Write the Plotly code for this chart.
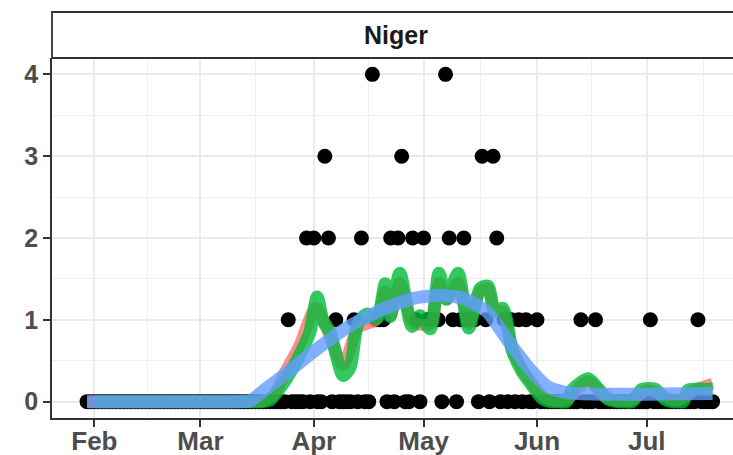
import plotly.graph_objects as go
import pandas as pd

# ---- daily counts, one list per month ----
count_jan = [0, 0]  # Jan 30-31
count_feb = [0, 0, 0, 0, 0, 0, 0, 0, 0, 0, 0, 0, 0, 0, 0, 0, 0, 0, 0, 0, 0, 0, 0, 0, 0, 0, 0, 0, 0]
count_mar = [0, 0, 0, 0, 0, 0, 0, 0, 0, 0, 0, 0, 0, 0, 0, 0, 0, 0, 0, 0, 0, 0, 0, 0, 1, 0, 0, 0, 0, 2, 0]
count_apr = [2, 0, 0, 3, 2, 0, 1, 0, 0, 0, 0, 1, 0, 2, 0, 0, 4, 1, 1, 1, 0, 2, 0, 2, 3, 0, 0, 2, 1, 0]
count_may = [2, 1, 1, 1, 1, 0, 4, 2, 1, 0, 1, 2, 1, 1, 1, 0, 3, 1, 0, 3, 2, 0, 1, 0, 1, 0, 1, 0, 1, 0, 0]
count_jun = [1, 0, 0, 0, 0, 0, 0, 0, 0, 0, 0, 0, 1, 0, 0, 0, 1, 0, 0, 0, 0, 0, 0, 0, 0, 0, 0, 0, 0, 0]
count_jul = [0, 1, 0, 0, 0, 0, 0, 0, 0, 0, 0, 0, 0, 0, 1, 0, 0, 0, 0]  # Jul 1-19
first_day = "2020-01-30"

# ---- red line ----
red_dates = ["2020-01-30", "2020-02-20", "2020-03-10", "2020-03-16", "2020-03-18", "2020-03-21", "2020-03-24",
             "2020-03-28", "2020-04-01 12:00",
             "2020-04-04", "2020-04-09", "2020-04-13", "2020-04-18", "2020-04-20 12:00", "2020-04-22",
             "2020-04-24 12:00", "2020-04-28", "2020-05-02 20:00", "2020-05-05 06:00", "2020-05-07 06:00",
             "2020-05-10 10:00", "2020-05-13 08:00", "2020-05-16 12:00", "2020-05-18 12:00", "2020-05-20 12:00",
             "2020-05-22 16:00", "2020-05-25 06:00", "2020-05-28", "2020-05-31", "2020-06-03", "2020-06-06",
             "2020-06-09", "2020-06-15", "2020-06-20", "2020-06-24", "2020-06-27", "2020-07-01", "2020-07-05",
             "2020-07-08", "2020-07-10", "2020-07-14", "2020-07-19"]
red_vals = [0, 0, 0, 0, 0.01, 0.08, 0.35,
            0.68, 1.15,
            0.95, 0.45, 0.9, 1.0, 1.35, 1.05,
            1.45, 0.97, 0.95, 1.45, 1.25,
            1.45, 0.95, 1.35, 1.38, 1.12,
            1.1, 0.65, 0.4, 0.2, 0.05, 0.01,
            0.02, 0.25, 0.05, 0.01, 0.02, 0.14, 0.08,
            0.02, 0.02, 0.14, 0.22]

# ---- green line ----
green_dates = ["2020-02-01", "2020-02-20", "2020-03-10", "2020-03-16", "2020-03-18", "2020-03-20",
               "2020-03-23 14:00", "2020-03-26 08:00", "2020-03-29",
               "2020-03-30 22:00", "2020-04-01 22:00", "2020-04-03 12:00", "2020-04-05 10:00", "2020-04-09",
               "2020-04-10 22:00", "2020-04-13", "2020-04-15 12:00", "2020-04-18 08:00", "2020-04-20 12:00",
               "2020-04-21 20:00", "2020-04-24 12:00", "2020-04-27 20:00", "2020-04-30", "2020-05-02 20:00",
               "2020-05-05 05:00", "2020-05-07 07:00", "2020-05-10 10:00", "2020-05-13 08:00", "2020-05-16 10:00",
               "2020-05-18 14:00", "2020-05-20 12:00", "2020-05-22 16:00", "2020-05-25 05:00", "2020-05-27 22:00",
               "2020-05-30 16:00", "2020-06-02 10:00", "2020-06-05", "2020-06-07", "2020-06-09", "2020-06-10 14:00",
               "2020-06-15", "2020-06-17 16:00", "2020-06-20 10:00", "2020-06-23", "2020-06-25", "2020-06-27",
               "2020-06-29 16:00", "2020-07-03 08:00", "2020-07-06", "2020-07-08", "2020-07-09 12:00", "2020-07-11",
               "2020-07-12 08:00", "2020-07-17 18:00", "2020-07-19"]
green_vals = [0, 0, 0, 0, 0, 0.02,
              0.22, 0.42, 0.65,
              0.85, 1.28, 0.99, 0.85, 0.32,
              0.42, 0.95, 1.07, 1.02, 1.44,
              1.04, 1.57, 0.92, 1.05, 0.89,
              1.57, 1.25, 1.57, 0.90, 1.38,
              1.41, 1.10, 1.14, 0.63, 0.37,
              0.20, 0.04, 0, 0, 0, 0.14,
              0.28, 0.16, 0.03, 0, 0, 0,
              0.15, 0.15, 0.03, 0, 0, 0,
              0.14, 0.15, 0.15]

# ---- blue smooth line ----
blue_dates = ["2020-01-30", "2020-02-20", "2020-03-05", "2020-03-11", "2020-03-14 14:00", "2020-03-19",
              "2020-03-24", "2020-04-02", "2020-04-10 22:00", "2020-04-19 22:00",
              "2020-04-28", "2020-05-05 12:00", "2020-05-12", "2020-05-18 08:00", "2020-05-24", "2020-05-30",
              "2020-06-04", "2020-06-09", "2020-06-20", "2020-07-01", "2020-07-10", "2020-07-19"]
blue_vals = [0, 0, 0, 0, 0.01, 0.16,
             0.33, 0.65, 0.93, 1.13,
             1.26, 1.30, 1.26, 1.10, 0.75, 0.40,
             0.18, 0.11, 0.09, 0.09, 0.095, 0.10]

# ---- axis ticks ----
month_ticks = ["2020-02-01", "2020-03-01", "2020-04-01", "2020-05-01", "2020-06-01", "2020-07-01"]
month_labels = ["Feb", "Mar", "Apr", "May", "Jun", "Jul"]
minor_x = ["2020-02-15 12:00", "2020-03-16", "2020-04-16", "2020-05-16 12:00", "2020-06-16", "2020-07-16 12:00"]
y_ticks = [0, 1, 2, 3, 4]
minor_y = [0.5, 1.5, 2.5, 3.5]
panel_title = "Niger"

counts = count_jan + count_feb + count_mar + count_apr + count_may + count_jun + count_jul
dates = pd.date_range(first_day, periods=len(counts), freq="D")


def to_dt(values):
    return pd.to_datetime(values, format="mixed")


FONT = "Liberation Sans, Arial, Helvetica, sans-serif"

fig = go.Figure()
fig.add_trace(go.Scatter(x=dates, y=counts, mode="markers",
                         marker=dict(color="black", size=15, line=dict(width=0)),
                         hoverinfo="skip"))
fig.add_trace(go.Scatter(x=to_dt(red_dates), y=red_vals, mode="lines",
                         line=dict(color="rgba(248,118,109,0.8)", width=12, shape="spline", smoothing=0.7),
                         hoverinfo="skip"))
fig.add_trace(go.Scatter(x=to_dt(green_dates), y=green_vals, mode="lines",
                         line=dict(color="rgba(0,186,56,0.8)", width=13, shape="spline", smoothing=0.7),
                         hoverinfo="skip"))
fig.add_trace(go.Scatter(x=to_dt(blue_dates), y=blue_vals, mode="lines",
                         line=dict(color="rgba(97,156,255,0.8)", width=13, shape="spline", smoothing=0.6),
                         hoverinfo="skip"))

fig.update_layout(
    width=733, height=455,
    margin=dict(l=52, r=0, t=58, b=37, autoexpand=False),
    paper_bgcolor="white", plot_bgcolor="white",
    showlegend=False,
    font=dict(family=FONT),
)

fig.update_xaxes(
    type="date",
    range=["2020-01-20 10:00", "2020-07-24 14:00"],
    tickmode="array", tickvals=month_ticks, ticktext=month_labels,
    showgrid=True, gridcolor="#EBEBEB", gridwidth=2,
    minor=dict(tickmode="array", tickvals=minor_x, showgrid=True, gridcolor="#EFEFEF", gridwidth=1, ticks=""),
    showline=True, linecolor="#333333", linewidth=1.8,
    ticks="outside", ticklen=7, tickcolor="#333333", tickwidth=1.8,
    tickfont=dict(size=26, color="#4D4D4D", family=FONT, weight="bold"),
    ticklabelstandoff=-8,
    zeroline=False, fixedrange=True, automargin=False,
)
fig.update_yaxes(
    range=[-0.2, 4.2],
    tickmode="array", tickvals=y_ticks, ticktext=[str(v) for v in y_ticks],
    showgrid=True, gridcolor="#EBEBEB", gridwidth=2,
    minor=dict(tickmode="array", tickvals=minor_y, showgrid=True, gridcolor="#EFEFEF", gridwidth=1, ticks=""),
    showline=True, linecolor="#333333", linewidth=1.8,
    ticks="outside", ticklen=7, tickcolor="#333333", tickwidth=1.8,
    tickfont=dict(size=25, color="#4D4D4D", family=FONT, weight="bold"),
    zeroline=False, fixedrange=True, automargin=False,
)

# facet strip
strip_h = 46 / 360
fig.add_shape(type="rect", xref="paper", yref="paper", x0=0, x1=1.05, y0=1, y1=1 + strip_h,
              line=dict(color="#333333", width=1.8), fillcolor="white")
fig.add_annotation(xref="paper", yref="paper", x=(396 - 52) / 681, y=1 + strip_h / 2,
                   text=panel_title, showarrow=False, xanchor="center", yanchor="middle",
                   font=dict(size=25, color="#1A1A1A", family=FONT, weight="bold"))

fig.write_html("out.html", config={"displayModeBar": False},
               post_script="document.body.style.margin='0';document.body.style.overflow='hidden';")
